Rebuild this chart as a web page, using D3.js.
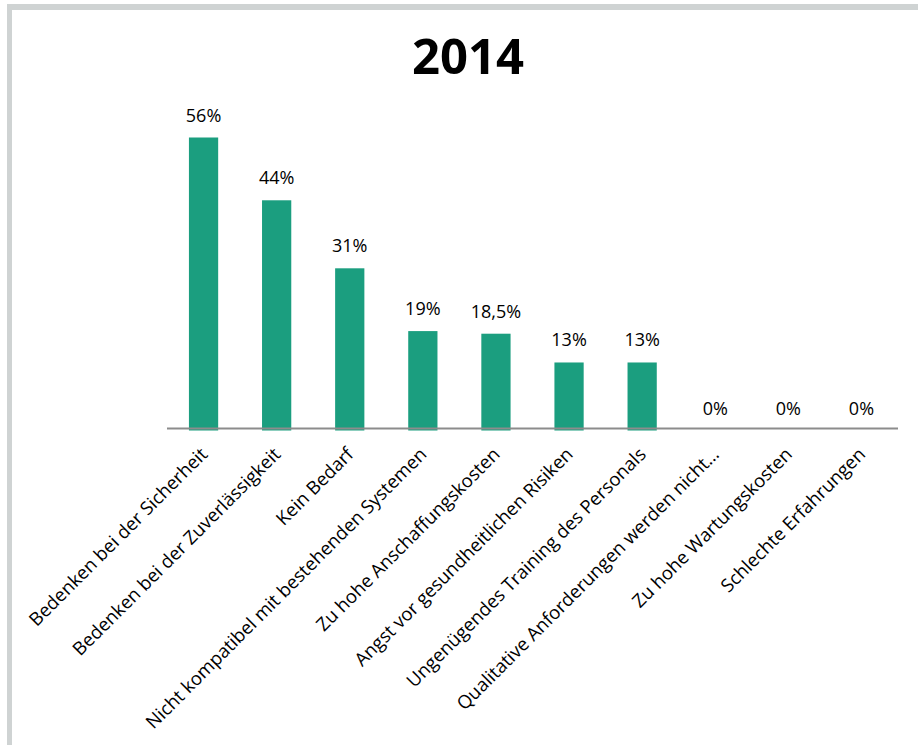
<!DOCTYPE html>
<html>
<head>
<meta charset="utf-8">
<script src="https://cdn.jsdelivr.net/npm/d3@7"></script>
<style>
  html, body { margin: 0; padding: 0; background: #fff; }
  svg { display: block; font-family: "Open Sans", "Noto Sans", sans-serif; }
</style>
</head>
<body>
<svg id="chart" width="918" height="745"></svg>
<script>
// Gründe gegen den Einsatz – Umfrage 2014
const title = "2014";
const categories = [
  "Bedenken bei der Sicherheit",
  "Bedenken bei der Zuverlässigkeit",
  "Kein Bedarf",
  "Nicht kompatibel mit bestehenden Systemen",
  "Zu hohe Anschaffungskosten",
  "Angst vor gesundheitlichen Risiken",
  "Ungenügendes Training des Personals",
  "Qualitative Anforderungen werden nicht…",
  "Zu hohe Wartungskosten",
  "Schlechte Erfahrungen"
];
const values = [56, 44, 31, 19, 18.5, 13, 13, 0, 0, 0];
const valueLabels = ["56%", "44%", "31%", "19%", "18,5%", "13%", "13%", "0%", "0%", "0%"];

const svg = d3.select("#chart");

// frame on top and left edge
svg.append("rect").attr("x", 7).attr("y", 4).attr("width", 911).attr("height", 6).attr("fill", "#cfd3d3");
svg.append("rect").attr("x", 7).attr("y", 4).attr("width", 5).attr("height", 741).attr("fill", "#cfd3d3");

const x = d3.scaleBand()
  .domain(categories)
  .range([167, 898])
  .paddingInner(0.6)
  .paddingOuter(0.3);

const y = d3.scaleLinear()
  .domain([0, 56])
  .range([430.5, 137.5]);

svg.append("text")
  .attr("x", 468)
  .attr("y", 73.5)
  .attr("text-anchor", "middle")
  .attr("font-size", 49)
  .attr("font-weight", 700)
  .attr("fill", "#000")
  .text(title);

const data = categories.map((c, i) => ({ c, v: values[i], label: valueLabels[i] }));

svg.append("g").selectAll("rect")
  .data(data)
  .join("rect")
  .attr("x", d => x(d.c))
  .attr("width", x.bandwidth())
  .attr("y", d => y(d.v))
  .attr("height", d => y(0) - y(d.v))
  .attr("fill", "#1b9e7f");

svg.append("g").selectAll("text")
  .data(data)
  .join("text")
  .attr("x", d => x(d.c) + x.bandwidth() / 2)
  .attr("y", d => y(d.v) - 16)
  .attr("text-anchor", "middle")
  .attr("font-size", 18)
  .attr("fill", "#000")
  .text(d => d.label);

// category axis along the baseline
const axis = svg.append("g")
  .attr("transform", `translate(0, ${y(0) - 2})`)
  .call(d3.axisBottom(x).tickSize(0).tickPadding(0));
axis.select(".domain")
  .attr("stroke", "#8c8c8c")
  .attr("stroke-width", 2)
  .attr("d", "M167,0H898");
axis.selectAll(".tick text")
  .attr("font-family", "\"Open Sans\", sans-serif")
  .attr("font-size", 18.5)
  .attr("fill", "#000")
  .attr("text-anchor", "end")
  .attr("dy", null)
  .attr("y", null)
  .attr("transform", "translate(5, 27) rotate(-45)");
</script>
</body>
</html>
